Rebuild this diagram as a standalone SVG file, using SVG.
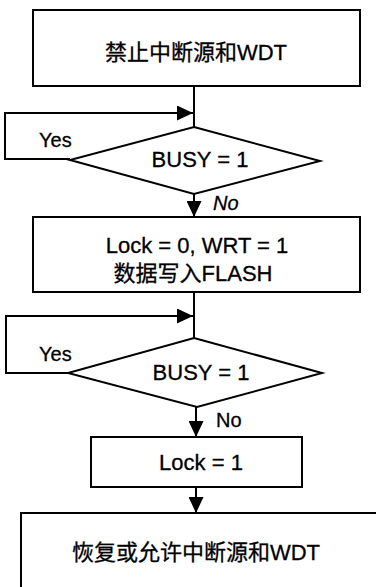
<svg xmlns="http://www.w3.org/2000/svg" width="376" height="587" viewBox="0 0 376 587">
<defs>
<style>
.box{fill:#fff;stroke:#000;stroke-width:2}
.ln{fill:none;stroke:#000;stroke-width:2}
.t{font-family:"Liberation Sans","Noto Sans CJK SC",sans-serif;font-size:22px;fill:#000;text-anchor:middle;stroke:#000;stroke-width:0.3}
.lb{font-family:"Liberation Sans","Noto Sans CJK SC",sans-serif;font-size:20px;fill:#000;stroke:#000;stroke-width:0.3}
</style>
<marker id="ah2" viewBox="0 0 10 10" refX="10" refY="5" markerWidth="16" markerHeight="15" markerUnits="userSpaceOnUse" orient="auto" preserveAspectRatio="none">
<path d="M0,0 L10,5 L0,10 z" fill="#000"/>
</marker>
</defs>
<rect width="376" height="587" fill="#fff"/>
<g id="connectors">
<path class="ln" d="M194,86 V127"/>
<path class="ln" d="M70,159 H5 V113 H193" marker-end="url(#ah2)"/>
<path class="ln" d="M194,194 V217" marker-end="url(#ah2)"/>
<path class="ln" d="M194,292 V338"/>
<path class="ln" d="M68,373 H6 V316 H193" marker-end="url(#ah2)"/>
<path class="ln" d="M196,407 V437" marker-end="url(#ah2)"/>
<path class="ln" d="M196,487 V513" marker-end="url(#ah2)"/>
<text class="lb" x="39" y="147">Yes</text>
<text class="lb" x="213" y="210" font-style="italic">No</text>
<text class="lb" x="39" y="361">Yes</text>
<text class="lb" x="216" y="427">No</text>
</g>
<g id="n1">
<rect class="box" x="33" y="10" width="327" height="76"/>
<text class="t" x="196" y="60">禁止中断源和WDT</text>
</g>
<g id="n2">
<path class="box" d="M194,127 L320,161 L194,194 L70,160 Z"/>
<text class="t" x="200" y="167">BUSY = 1</text>
</g>
<g id="n3">
<rect class="box" x="33" y="217" width="327" height="75"/>
<text class="t" x="197" y="253">Lock = 0, WRT = 1</text>
<text class="t" x="193" y="281">数据写入FLASH</text>
</g>
<g id="n4">
<path class="box" d="M194,338 L322,373 L197,407 L68,373 Z"/>
<text class="t" x="201" y="380">BUSY = 1</text>
</g>
<g id="n5">
<rect class="box" x="91" y="437" width="211" height="50"/>
<text class="t" x="201" y="470">Lock = 1</text>
</g>
<g id="n6">
<rect class="box" x="21" y="513" width="365" height="84"/>
<text class="t" x="196" y="560">恢复或允许中断源和WDT</text>
</g>
</svg>
